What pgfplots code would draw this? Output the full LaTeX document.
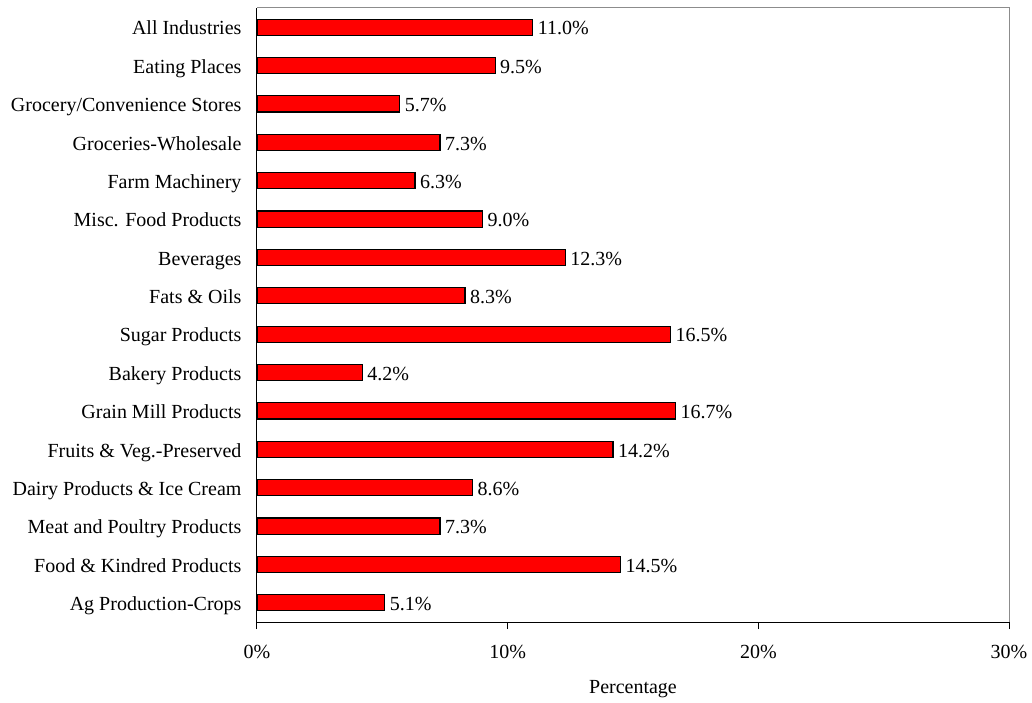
\documentclass[border=0pt]{standalone}
\usepackage{fontspec}
\setmainfont{Liberation Serif}
\usepackage{pgfplots}
\pgfplotsset{compat=1.18}
\definecolor{barred}{RGB}{255,0,0}
\definecolor{framegray}{RGB}{140,140,140}

\begin{document}
\begin{tikzpicture}
\begin{axis}[
  scale only axis,
  width=752pt, height=614pt,
  xbar, bar width=0.42,
  xmin=0, xmax=30,
  ymin=-0.5, ymax=15.5,
  xtick={0,10,20,30},
  xticklabels={0\%,10\%,20\%,30\%},
  ytick={0,...,15},
  yticklabels={Ag Production-Crops, Food \& Kindred Products, Meat and Poultry Products,
    Dairy Products \& Ice Cream, Fruits \& Veg.-Preserved, Grain Mill Products,
    Bakery Products, Sugar Products, Fats \& Oils, Beverages, Misc. Food Products,
    Farm Machinery, Groceries-Wholesale, Grocery/Convenience Stores, Eating Places,
    All Industries},
  typeset ticklabels with strut,
  axis x line*=bottom, axis y line*=left,
  axis line style={black, line width=1pt, -},
  tick align=outside,
  x tick style={black, line width=1pt},
  major tick length=7pt,
  y tick style={draw=none},
  every tick label/.append style={font=\fontsize{20}{24}\selectfont},
  xticklabel style={yshift=-9pt},
  yticklabel style={xshift=-5pt, yshift=-3pt},
  xlabel={Percentage},
  xlabel style={font=\fontsize{20}{24}\selectfont, yshift=-8pt},
  nodes near coords={\strut\pgfmathprintnumber[fixed,fixed zerofill,precision=1]{\pgfplotspointmeta}\%},
  point meta=x,
  nodes near coords style={font=\fontsize{20}{24}\selectfont, anchor=west, inner sep=4.5pt,
    yshift=-3pt, /pgf/number format/assume math mode=true},
  clip=false,
]
\addplot[fill=barred, draw=black, line width=1.2pt] coordinates {
  (5.1,0) (14.5,1) (7.3,2) (8.6,3) (14.2,4) (16.7,5) (4.2,6) (16.5,7)
  (8.3,8) (12.3,9) (9.0,10) (6.3,11) (7.3,12) (5.7,13) (9.5,14) (11.0,15)
};
% gray frame on the top and right sides of the plot area
\draw[framegray, line width=1pt] (rel axis cs:0,1) -- (rel axis cs:1,1) -- (rel axis cs:1,0);
\coordinate (sw) at (rel axis cs:0,0);
\coordinate (ne) at (rel axis cs:1,1);
\end{axis}
\pgfresetboundingbox
\path[use as bounding box] ([shift={(-257pt,-80pt)}]sw) rectangle ([shift={(23pt,8pt)}]ne);
\end{tikzpicture}
\end{document}
